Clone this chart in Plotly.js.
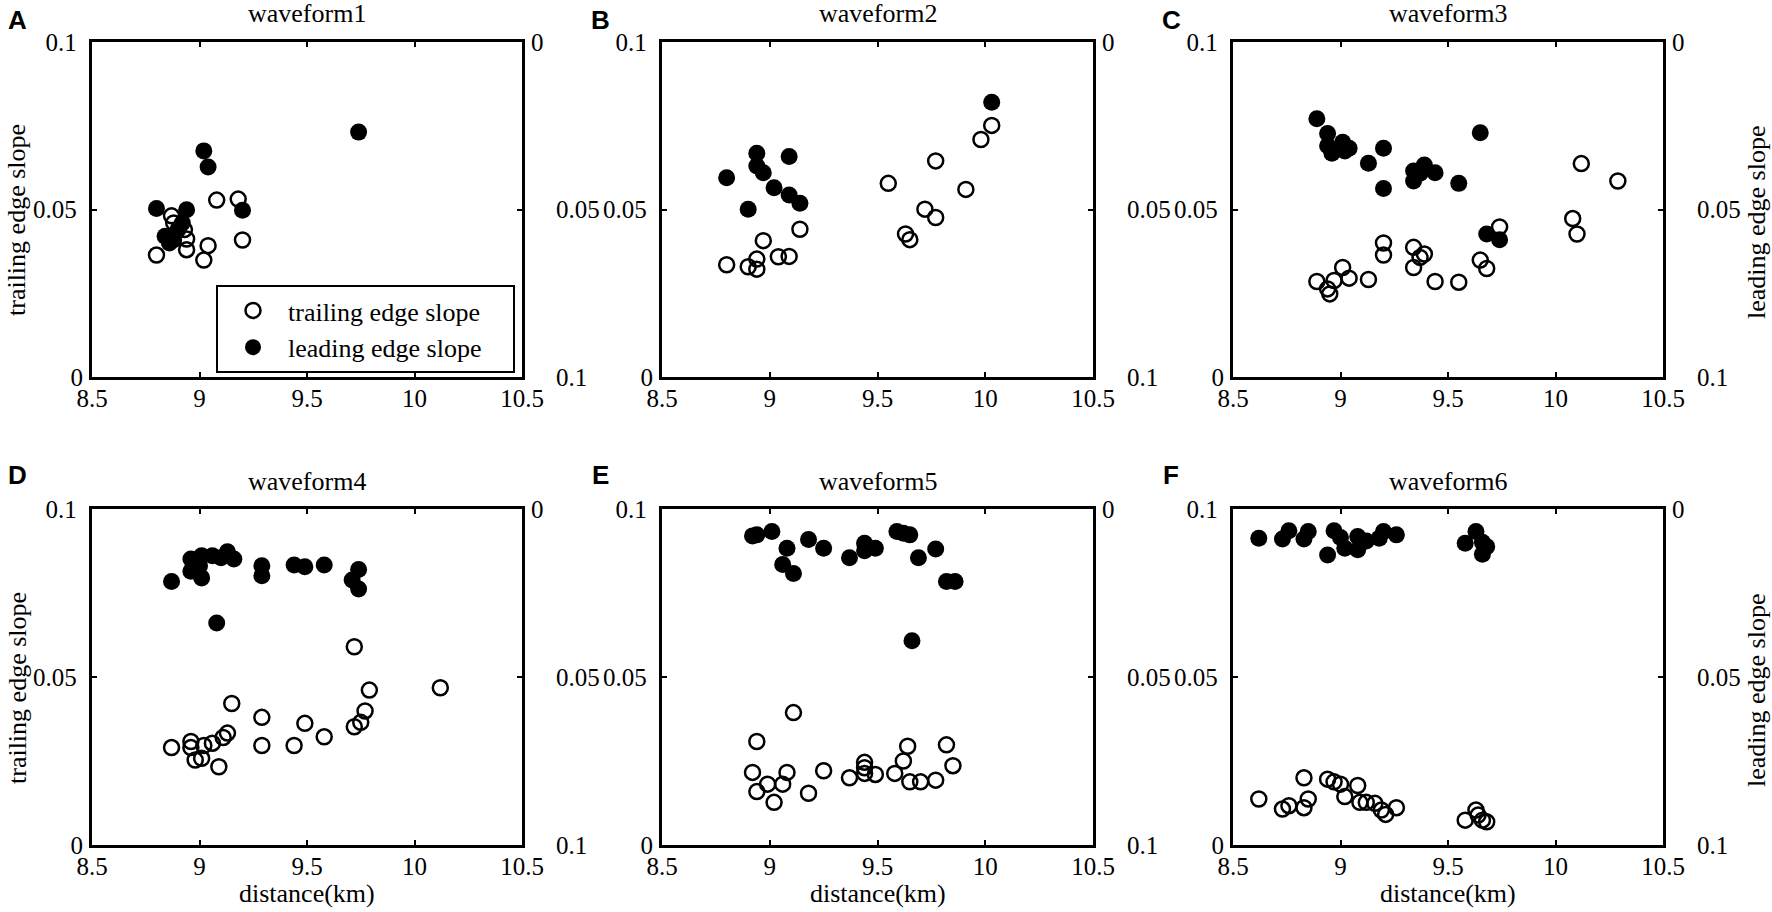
<!DOCTYPE html>
<html>
<head>
<meta charset="utf-8">
<script src="https://cdn.plot.ly/plotly-3.0.1.min.js"></script>
<style>
  html, body { margin: 0; padding: 0; background: #fff; }
  #chart { width: 1772px; height: 912px; }
</style>
</head>
<body>
<div id="chart"></div>
<script>
// ---- data ----
const xTicks = [8.5, 9, 9.5, 10, 10.5];
const xTickText = ['8.5', '9', '9.5', '10', '10.5'];
const yTicks = [0, 0.05, 0.1];
const panelTitles = ['waveform1', 'waveform2', 'waveform3', 'waveform4', 'waveform5', 'waveform6'];
const panelLetters = ['A', 'B', 'C', 'D', 'E', 'F'];
const seriesNames = ['trailing edge slope', 'leading edge slope'];

// trailing edge slope (left axis, hollow circles)
const trailX1 = [8.80, 8.87, 8.88, 8.93, 8.94, 8.94, 9.04, 9.02, 9.08, 9.18, 9.20];
const trailY1 = [0.0364, 0.0481, 0.046, 0.044, 0.0412, 0.038, 0.0392, 0.0349, 0.0528, 0.0531, 0.0409];
const trailX2 = [8.80, 8.90, 8.94, 8.94, 8.97, 9.04, 9.09, 9.14, 9.55, 9.63, 9.65, 9.72, 9.77, 9.77, 9.91, 9.98, 10.03];
const trailY2 = [0.0335, 0.0329, 0.0352, 0.0322, 0.0407, 0.0359, 0.036, 0.0441, 0.0578, 0.0427, 0.041, 0.0501, 0.0476, 0.0645, 0.056, 0.0709, 0.0751];
const trailX3 = [8.89, 8.94, 8.95, 8.97, 9.01, 9.04, 9.13, 9.20, 9.20, 9.34, 9.34, 9.37, 9.39, 9.44, 9.55, 9.65, 9.68, 9.74, 10.08, 10.10, 10.12, 10.29];
const trailY3 = [0.0285, 0.0263, 0.0248, 0.0288, 0.0327, 0.0295, 0.0291, 0.04, 0.0364, 0.0387, 0.0327, 0.0357, 0.0367, 0.0285, 0.0283, 0.0349, 0.0324, 0.0448, 0.0473, 0.0427, 0.0637, 0.0585];
const trailX4 = [8.87, 8.96, 8.96, 8.98, 9.01, 9.02, 9.06, 9.09, 9.11, 9.13, 9.15, 9.29, 9.29, 9.44, 9.49, 9.58, 9.72, 9.72, 9.75, 9.77, 9.79, 10.12];
const trailY4 = [0.029, 0.0308, 0.029, 0.0253, 0.0258, 0.0296, 0.0303, 0.0233, 0.032, 0.0333, 0.0421, 0.038, 0.0296, 0.0296, 0.0362, 0.0322, 0.059, 0.0352, 0.0365, 0.0399, 0.0461, 0.0468];
const trailX5 = [8.94, 9.11, 8.92, 8.94, 8.99, 9.02, 9.06, 9.08, 9.18, 9.25, 9.37, 9.44, 9.44, 9.44, 9.49, 9.58, 9.62, 9.64, 9.65, 9.70, 9.77, 9.82, 9.85];
const trailY5 = [0.0308, 0.0394, 0.0216, 0.0159, 0.0181, 0.0127, 0.0181, 0.0216, 0.0154, 0.0221, 0.02, 0.0246, 0.023, 0.0213, 0.021, 0.0213, 0.025, 0.0294, 0.0188, 0.0188, 0.0193, 0.0298, 0.0236];
const trailX6 = [8.62, 8.73, 8.76, 8.83, 8.83, 8.85, 8.94, 8.97, 9.00, 9.02, 9.08, 9.09, 9.12, 9.16, 9.19, 9.21, 9.26, 9.58, 9.63, 9.64, 9.66, 9.68];
const trailY6 = [0.0137, 0.0107, 0.0117, 0.02, 0.0111, 0.0137, 0.0196, 0.0188, 0.0181, 0.0144, 0.0177, 0.0127, 0.0127, 0.0124, 0.0104, 0.0091, 0.0111, 0.0074, 0.0104, 0.0089, 0.0074, 0.0069];

// leading edge slope (right axis, reversed, filled circles)
const leadX1 = [8.80, 8.94, 9.02, 9.04, 9.20, 9.74, 8.84, 8.86, 8.88, 8.90, 8.92];
const leadY1 = [0.0497, 0.0501, 0.0325, 0.0373, 0.0502, 0.0269, 0.058, 0.060, 0.059, 0.056, 0.054];
const leadX2 = [8.80, 8.94, 8.94, 8.97, 9.02, 9.09, 9.09, 9.14, 8.90, 10.03];
const leadY2 = [0.0405, 0.0332, 0.037, 0.039, 0.0435, 0.0342, 0.0457, 0.0481, 0.0499, 0.018];
const leadX3 = [8.89, 8.94, 8.94, 8.96, 9.01, 9.04, 9.02, 9.20, 9.13, 9.20, 9.34, 9.34, 9.39, 9.37, 9.44, 9.55, 9.65, 9.68, 9.74];
const leadY3 = [0.0229, 0.0273, 0.031, 0.0332, 0.0299, 0.0317, 0.0325, 0.0317, 0.0362, 0.0437, 0.0385, 0.0415, 0.0367, 0.0392, 0.039, 0.0422, 0.0271, 0.0573, 0.059];
const leadX4 = [8.87, 8.96, 8.96, 9.01, 9.01, 9.06, 9.10, 9.13, 9.16, 9.00, 9.08, 9.29, 9.29, 9.44, 9.49, 9.58, 9.71, 9.74, 9.74];
const leadY4 = [0.0216, 0.0149, 0.0185, 0.0205, 0.0139, 0.0139, 0.0145, 0.0127, 0.0149, 0.017, 0.0339, 0.0169, 0.0199, 0.0167, 0.0172, 0.0167, 0.0211, 0.018, 0.0238];
const leadX5 = [8.92, 8.94, 9.01, 9.08, 9.06, 9.11, 9.18, 9.25, 9.37, 9.44, 9.44, 9.49, 9.59, 9.62, 9.65, 9.69, 9.77, 9.82, 9.86, 9.66];
const leadY5 = [0.008, 0.0077, 0.0067, 0.0117, 0.0165, 0.0192, 0.0091, 0.0117, 0.0145, 0.0102, 0.0124, 0.0117, 0.0067, 0.0072, 0.0077, 0.0145, 0.0119, 0.0216, 0.0216, 0.0392];
const leadX6 = [8.62, 8.73, 8.76, 8.83, 8.85, 8.97, 9.00, 8.94, 9.02, 9.08, 9.08, 9.12, 9.18, 9.20, 9.26, 9.58, 9.63, 9.66, 9.68, 9.66];
const leadY6 = [0.0087, 0.0089, 0.0065, 0.0089, 0.0067, 0.0065, 0.0085, 0.0137, 0.0117, 0.0082, 0.0121, 0.0095, 0.0087, 0.0067, 0.0077, 0.0102, 0.0067, 0.0099, 0.0112, 0.0135];

const trailX = [trailX1, trailX2, trailX3, trailX4, trailX5, trailX6];
const trailY = [trailY1, trailY2, trailY3, trailY4, trailY5, trailY6];
const leadX = [leadX1, leadX2, leadX3, leadX4, leadX5, leadX6];
const leadY = [leadY1, leadY2, leadY3, leadY4, leadY5, leadY6];

// ---- layout geometry (pixels in a 1772x912 page) ----
const W = 1772, H = 912;
const colPx = [[92, 522], [662, 1093], [1233, 1663]];
const rowPx = [[42, 377], [509, 845]];
const letterX = [17, 600, 1171];
const px = v => v / W;
const py = v => 1 - v / H;

const serif = '"Liberation Serif"';
const sans = '"Liberation Sans"';
const nb = '\u00a0';
const legendPad = nb + nb + nb + nb;   // widens the legend box like the original
const tickFont = { family: serif, size: 25, color: '#000' };
const textFont = { family: serif, size: 26, color: '#000' };

const traces = [];
const layout = {
    width: W, height: H,
    margin: { l: 0, r: 0, t: 0, b: 0 },
    paper_bgcolor: '#fff', plot_bgcolor: '#fff',
    font: textFont,
    showlegend: true,
    legend: {
        x: px(216), y: py(285), xanchor: 'left', yanchor: 'top',
        bgcolor: '#fff', bordercolor: '#000', borderwidth: 2,
        font: textFont, itemwidth: 60,
        tracegroupgap: 0
    },
    annotations: []
};

for (let i = 0; i < 6; i++) {
    const col = i % 3, row = Math.floor(i / 3);
    const [x0, x1] = colPx[col];
    const [y0, y1] = rowPx[row];
    const xa = 'x' + (i + 1);
    const yl = 'y' + (2 * i + 1);
    const yr = 'y' + (2 * i + 2);

    const axisBase = {
        ticks: 'inside', ticklen: 5, tickwidth: 2, tickcolor: '#000',
        showline: true, linewidth: 3, linecolor: '#000',
        showgrid: false, zeroline: false, fixedrange: true,
        tickfont: tickFont
    };
    layout['xaxis' + (i + 1)] = Object.assign({}, axisBase, {
        domain: [px(x0), px(x1)], anchor: yl, range: [8.5, 10.5],
        tickvals: xTicks, ticktext: xTickText, mirror: 'ticks',
        ticklabelstandoff: -3
    });
    layout['yaxis' + (2 * i + 1)] = Object.assign({}, axisBase, {
        domain: [py(y1), py(y0)], anchor: xa, range: [0, 0.1],
        tickvals: yTicks, ticktext: ['0', '0.05' + nb, '0.1' + nb],
        ticklabelstandoff: 1
    });
    // right axis runs the other way: 0 at the top, 0.1 at the bottom
    layout['yaxis' + (2 * i + 2)] = Object.assign({}, axisBase, {
        overlaying: yl, anchor: xa, side: 'right', range: [0.1, 0],
        tickvals: yTicks, ticktext: ['0', nb + nb + nb + nb + '0.05', nb + nb + nb + nb + '0.1'],
        ticklabelstandoff: 1
    });

    traces.push({
        x: trailX[i], y: trailY[i], xaxis: xa, yaxis: yl,
        type: 'scatter', mode: 'markers', name: seriesNames[0] + legendPad,
        showlegend: i === 0, cliponaxis: false,
        marker: { symbol: 'circle-open', size: 15, color: '#000', line: { width: 2.5, color: '#000' } }
    });
    traces.push({
        x: leadX[i], y: leadY[i], xaxis: xa, yaxis: yr,
        type: 'scatter', mode: 'markers', name: seriesNames[1] + legendPad,
        showlegend: i === 0, cliponaxis: false,
        marker: { symbol: 'circle', size: 17, color: '#000' }
    });

    const cx = (x0 + x1) / 2;
    layout.annotations.push(
        { xref: 'paper', yref: 'paper', x: px(cx), y: py(y0 - 28), xanchor: 'center', yanchor: 'middle',
          text: panelTitles[i], showarrow: false, font: textFont },
        { xref: 'paper', yref: 'paper', x: px(letterX[col]), y: py(row === 0 ? 20 : 475), xanchor: 'center', yanchor: 'middle',
          text: '<b>' + panelLetters[i] + '</b>', showarrow: false, font: { family: sans, size: 26, color: '#000' } }
    );
    if (col === 0) {
        layout.annotations.push({ xref: 'paper', yref: 'paper', x: px(17), y: py(row === 0 ? 220 : 688),
            xanchor: 'center', yanchor: 'middle', textangle: -90, text: 'trailing edge slope',
            showarrow: false, font: textFont });
    }
    if (col === 2) {
        layout.annotations.push({ xref: 'paper', yref: 'paper', x: px(1756), y: py(row === 0 ? 222 : 690),
            xanchor: 'center', yanchor: 'middle', textangle: -90, text: 'leading edge slope',
            showarrow: false, font: textFont });
    }
    if (row === 1) {
        layout.annotations.push({ xref: 'paper', yref: 'paper', x: px(cx), y: py(893),
            xanchor: 'center', yanchor: 'middle', text: 'distance(km)',
            showarrow: false, font: textFont });
    }
}

Plotly.newPlot('chart', traces, layout, { displayModeBar: false, staticPlot: true });
</script>
</body>
</html>
